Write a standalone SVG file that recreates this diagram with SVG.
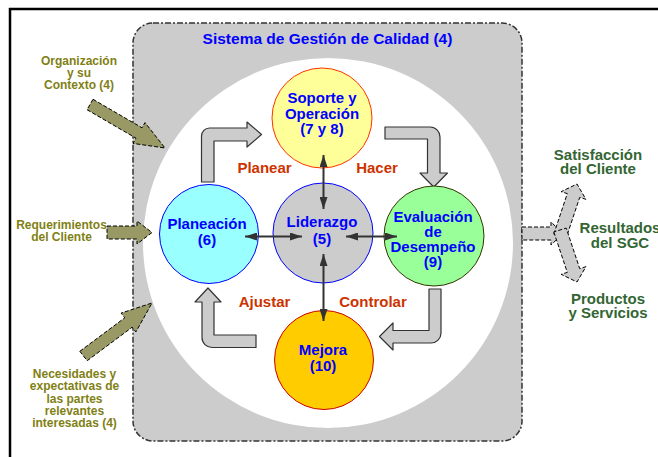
<svg xmlns="http://www.w3.org/2000/svg" width="658" height="457" viewBox="0 0 658 457">
<style>
text{font-family:"Liberation Sans",Arial,sans-serif;font-weight:bold;text-anchor:middle}
.blue{fill:#0000ff;font-size:15px}
.red{fill:#cc3300;font-size:15px}
.olive{fill:#7f7f14;font-size:12px}
.green{fill:#336633;font-size:15px}
.blk{fill:#cccccc;stroke:#333333;stroke-width:1.2;stroke-linejoin:round}
.dsh{stroke:#000000;stroke-width:1;stroke-dasharray:4,2}
.dbl{stroke:#333333;stroke-width:2;fill:none;marker-start:url(#ah);marker-end:url(#ah)}
</style>
<defs>
<marker id="ah" viewBox="0 0 12 8" refX="12" refY="4" markerWidth="12" markerHeight="8" markerUnits="userSpaceOnUse" orient="auto-start-reverse">
<path d="M0,0 L12,4 L0,8 z" fill="#333333"/>
</marker>
</defs>
<rect width="658" height="457" fill="#ffffff"/>
<g id="frame" stroke="#000000" stroke-width="2.5" fill="none">
<line x1="9" y1="9" x2="658" y2="9"/>
<line x1="10" y1="8" x2="10" y2="457"/>
</g>
<g id="sistema">
<rect x="133" y="23" width="389" height="418" rx="20" ry="20" fill="#cccccc" stroke="#333333" stroke-width="1.5" stroke-dasharray="6,2,2,2"/>
<circle cx="328" cy="243" r="185" fill="#ffffff"/>
<text class="blue" x="327.5" y="44" style="font-size:15.5px">Sistema de Gestión de Calidad (4)</text>
</g>
<g id="connectors">
<path class="blk" d="M201.5,182 V136 A8,8 0 0 1 209.5,128 H247 V122 L261.5,134.5 L247,147 V141 H214 V182 Z"/>
<path class="blk" d="M385,127 H430 A10,10 0 0 1 440,137 V173 H447.5 L433.75,187 L420,173 H427.5 V139 H385 Z"/>
<path class="blk" d="M429,289 H441 V333 A10,10 0 0 1 431,343 H393 V350 L379.5,336.5 L393,323 V330.5 H429 Z"/>
<path class="blk" d="M256,335 V347.5 H212 A10,10 0 0 1 202,337.5 V302 H195 L208,288 L221,302 H214 V335 Z"/>
<g fill="#999966" class="dsh">
<polygon points="93,99.3 142,127.8 145,122.6 165,148 133,143.4 136,138.2 87,109.7"/>
<polygon points="107,226 137,226 137,221 152,232.5 137,244 137,239 107,239"/>
<polygon points="79.8,351.3 124.8,317.8 121.1,313.1 152,303 135.9,331.9 132.2,327.2 87.2,360.7"/>
</g>
<g fill="#cccccc" class="dsh">
<polygon points="522,227 551,227 551,222 563,233.5 551,245 551,240 522,240"/>
<polygon points="553.8,234.1 567.3,193.6 561.1,191.7 577,184 585.9,199.3 579.7,197.4 566.2,237.9"/>
<polygon points="553.8,231.9 567.3,272.4 561.1,274.3 577,282 585.9,266.7 579.7,268.6 566.2,228.1"/>
</g>
</g>
<g id="soporte">
<circle cx="322" cy="118" r="50" fill="#ffff99" stroke="#ff3300" stroke-width="1"/>
<text class="blue" x="322" y="103">Soporte y</text>
<text class="blue" x="322" y="118.5">Operación</text>
<text class="blue" x="322" y="134">(7 y 8)</text>
</g>
<g id="liderazgo">
<circle cx="323" cy="233" r="50" fill="#cccccc" stroke="#0000ff" stroke-width="1"/>
<text class="blue" x="322" y="227">Liderazgo</text>
<text class="blue" x="322" y="244">(5)</text>
</g>
<g id="planeacion">
<circle cx="209" cy="234" r="49.5" fill="#99ffff" stroke="#0000ff" stroke-width="1"/>
<text class="blue" x="207" y="229">Planeación</text>
<text class="blue" x="207" y="245">(6)</text>
</g>
<g id="evaluacion">
<circle cx="434" cy="236" r="50" fill="#99ff99" stroke="#333300" stroke-width="1"/>
<text class="blue" x="433" y="222">Evaluación</text>
<text class="blue" x="433" y="237">de</text>
<text class="blue" x="433" y="252">Desempeño</text>
<text class="blue" x="433" y="267">(9)</text>
</g>
<g id="mejora">
<circle cx="324" cy="360" r="49.5" fill="#ffcc00" stroke="#cc0000" stroke-width="1"/>
<text class="blue" x="323" y="355">Mejora</text>
<text class="blue" x="323" y="371">(10)</text>
</g>
<g id="leader-links">
<line class="dbl" x1="323.5" y1="155" x2="323.5" y2="209"/>
<line class="dbl" x1="323.5" y1="254" x2="323.5" y2="321"/>
<line class="dbl" x1="245" y1="236.5" x2="302" y2="236.5"/>
<line class="dbl" x1="346" y1="236.5" x2="397" y2="236.5"/>
</g>
<g id="phases">
<text class="red" x="264.5" y="173">Planear</text>
<text class="red" x="377" y="173">Hacer</text>
<text class="red" x="264.5" y="307">Ajustar</text>
<text class="red" x="373" y="307">Controlar</text>
</g>
<g id="organizacion">
<text class="olive" x="79" y="65">Organización</text>
<text class="olive" x="79" y="77">y su</text>
<text class="olive" x="79" y="89">Contexto (4)</text>
</g>
<g id="requerimientos">
<text class="olive" x="61.5" y="229">Requerimientos</text>
<text class="olive" x="61.5" y="241">del Cliente</text>
</g>
<g id="necesidades">
<text class="olive" x="74.5" y="378">Necesidades y</text>
<text class="olive" x="74.5" y="390.3">expectativas de</text>
<text class="olive" x="74.5" y="402.5">las partes</text>
<text class="olive" x="74.5" y="414.8">relevantes</text>
<text class="olive" x="74.5" y="427">interesadas (4)</text>
</g>
<g id="satisfaccion">
<text class="green" x="598" y="160">Satisfacción</text>
<text class="green" x="598" y="174">del Cliente</text>
</g>
<g id="resultados">
<text class="green" x="620" y="233">Resultados</text>
<text class="green" x="620" y="248">del SGC</text>
</g>
<g id="productos">
<text class="green" x="608" y="304">Productos</text>
<text class="green" x="608" y="318">y Servicios</text>
</g>
</svg>
